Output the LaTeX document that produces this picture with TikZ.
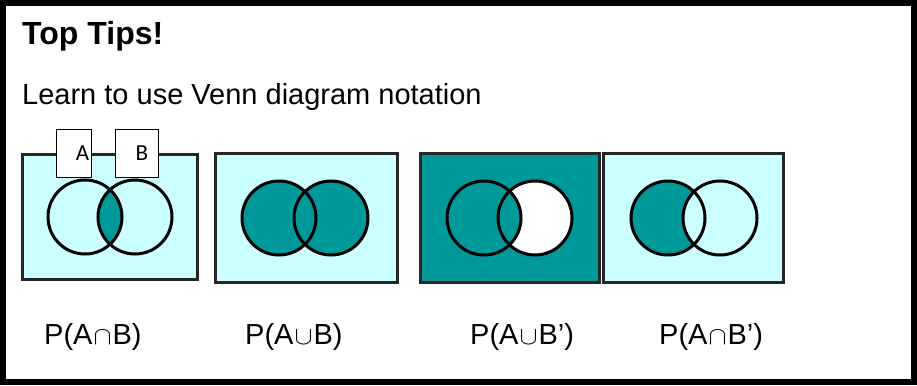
\documentclass[tikz,border=0pt]{standalone}
\usepackage{fontspec}
\usepackage{graphicx}
\setmainfont{Liberation Sans}
\newfontfamily\calibfont{Carlito}
\definecolor{lcyan}{HTML}{CCFFFF}
\definecolor{tealfill}{HTML}{009999}
\definecolor{vframe}{HTML}{262626}
\newcommand\mycap{\makebox[20pt]{\resizebox{18pt}{14pt}{$\cap$}}}
\newcommand\mycup{\makebox[20pt]{\resizebox{18pt}{14pt}{$\cup$}}}
\tikzset{
  venbox/.style={draw=vframe, line width=3pt},
  ring/.style={draw=black, line width=3pt},
  lab/.style={anchor=base west, inner sep=0pt, font=\fontsize{29}{29}\selectfont},
  setlab/.style={draw=black, line width=0.8pt, fill=white, minimum width=35pt, minimum height=48pt, inner sep=0pt},
  setletter/.style={font=\calibfont\fontsize{23}{23}\selectfont, inner sep=0pt},
}
\begin{document}
\begin{tikzpicture}[x=1pt,y=-1pt]
\useasboundingbox (0,0) rectangle (917,385);
% outer frame
\draw[line width=5.5pt] (3,2.8) rectangle (914,382.2);
% texts
\node[anchor=base west, inner sep=0pt, font=\bfseries\fontsize{32}{32}\selectfont] (title) at (22,45) {Top Tips!};
\node[lab] (intro) at (22,105) {Learn to use Venn diagram notation};

% ---- box 1: A cap B
\fill[lcyan] (22,154) rectangle (197,279);
\begin{scope}
  \clip (85,217) circle (37);
  \fill[tealfill] (135,217) circle (37);
\end{scope}
\draw[ring] (85,217) circle (37);
\draw[ring] (135,217) circle (37);
\draw[venbox] (22,154) rectangle (197,279);
\node[setlab, minimum width=35pt] (setA) at (73.5,153) {};
\node[setlab, minimum width=43pt] (setB) at (136.5,153) {};
\node[setletter] (la) at (82.5,153) {A};
\node[setletter] (lb) at (142,153) {B};

% ---- box 2: A cup B
\fill[lcyan] (215,153) rectangle (397,282);
\fill[tealfill] (279,218) circle (37);
\fill[tealfill] (331,218) circle (37);
\draw[ring] (279,218) circle (37);
\draw[ring] (331,218) circle (37);
\draw[venbox] (215,153) rectangle (397,282);

% ---- box 3: A cup B'
\fill[tealfill] (420,153) rectangle (599,282);
\fill[white] (535,218) circle (37);
\fill[tealfill] (484,218) circle (37);
\draw[ring] (484,218) circle (37);
\draw[ring] (535,218) circle (37);
\draw[venbox] (420,153) rectangle (599,282);

% ---- box 4: A cap B'
\fill[lcyan] (603,153) rectangle (783,282);
\fill[tealfill] (668,218) circle (37);
\fill[lcyan] (720,218) circle (37);
\draw[ring] (668,218) circle (37);
\draw[ring] (720,218) circle (37);
\draw[venbox] (603,153) rectangle (783,282);

% labels
\node[lab] (p1) at (44,344) {P(A\mycap B)};
\node[lab] (p2) at (245,344) {P(A\mycup B)};
\node[lab] (p3) at (470,344) {P(A\mycup B’)};
\node[lab] (p4) at (659,344) {P(A\mycap B’)};
\end{tikzpicture}
\end{document}
